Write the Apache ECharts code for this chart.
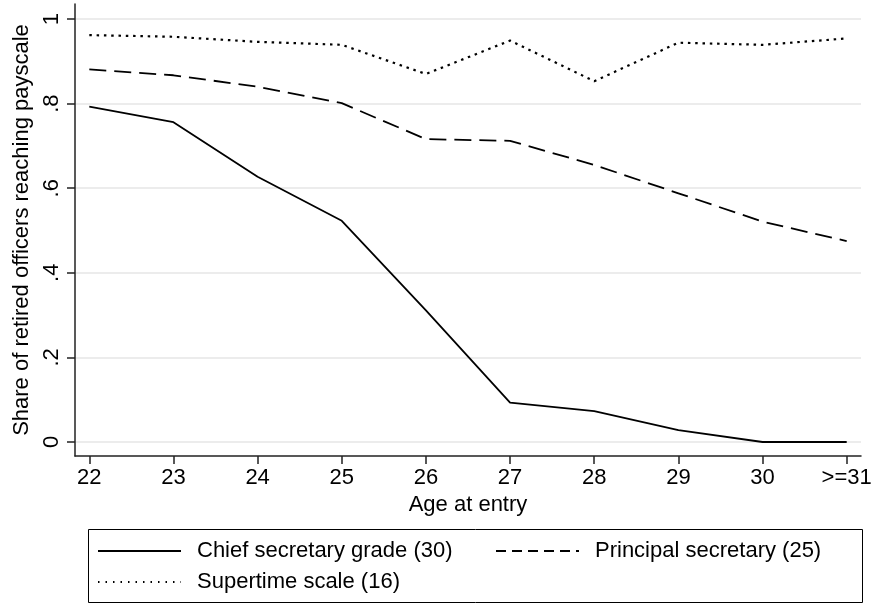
<!DOCTYPE html>
<html>
<head>
<meta charset="utf-8">
<script src="https://cdn.jsdelivr.net/npm/echarts@6/dist/echarts.min.js"></script>
<style>
html,body{margin:0;padding:0;background:#fff;}
#chart{width:876px;height:605px;}
</style>
</head>
<body>
<div id="chart"></div>
<script>
// ---- data ----
const ages = [22, 23, 24, 25, 26, 27, 28, 29, 30, 31];
const xTickLabels = ['22', '23', '24', '25', '26', '27', '28', '29', '30', '>=31'];
const yTickValues = [0, 0.2, 0.4, 0.6, 0.8, 1];
const yTickLabels = ['0', '.2', '.4', '.6', '.8', '1'];
const seriesNames = ['Chief secretary grade (30)', 'Principal secretary (25)', 'Supertime scale (16)'];
const chiefSecretary = [0.793, 0.756, 0.627, 0.523, 0.311, 0.093, 0.073, 0.028, 0.0, 0.0];
const principalSecretary = [0.881, 0.867, 0.840, 0.801, 0.716, 0.712, 0.655, 0.588, 0.521, 0.475];
const supertimeScale = [0.962, 0.958, 0.946, 0.939, 0.870, 0.949, 0.853, 0.944, 0.939, 0.954];

const FONT = 'Liberation Sans, Arial, sans-serif';
const pairs = arr => ages.map((a, i) => [a, arr[i]]);

const chart = echarts.init(document.getElementById('chart'), null, {renderer: 'canvas'});

const legendBase = {
  orient: 'horizontal',
  padding: 0,
  itemWidth: 83,
  itemHeight: 14,
  textStyle: {fontFamily: FONT, fontSize: 22, color: '#000', padding: [0, 0, 0, 11]},
  selectedMode: false,
  itemStyle: {opacity: 0}
};

chart.setOption({
  animation: false,
  backgroundColor: '#fff',
  textStyle: {fontFamily: FONT},
  grid: {left: 75, right: 15, top: 4, bottom: 149, containLabel: false},
  xAxis: {
    type: 'value',
    min: 21.83,
    max: 31.17,
    name: 'Age at entry',
    nameLocation: 'middle',
    nameGap: 37,
    nameTextStyle: {fontFamily: FONT, fontSize: 22, color: '#000'},
    axisLine: {show: true, onZero: false, lineStyle: {color: '#222', width: 1.5}},
    axisTick: {show: true, length: 8, customValues: ages, lineStyle: {color: '#222', width: 1.5}},
    axisLabel: {
      customValues: ages,
      margin: 11,
      fontFamily: FONT, fontSize: 22, color: '#000',
      formatter: v => xTickLabels[ages.indexOf(Math.round(v))]
    },
    splitLine: {show: false}
  },
  yAxis: {
    type: 'value',
    min: -0.0331,
    max: 1.0355,
    name: 'Share of retired officers reaching payscale',
    nameLocation: 'middle',
    nameGap: 40,
    nameTextStyle: {fontFamily: FONT, fontSize: 22, color: '#000'},
    axisLine: {show: true, onZero: false, lineStyle: {color: '#222', width: 1.5}},
    axisTick: {show: true, length: 8, customValues: yTickValues, lineStyle: {color: '#222', width: 1.5}},
    axisLabel: {
      customValues: yTickValues,
      rotate: 90,
      margin: 12,
      fontFamily: FONT, fontSize: 22, color: '#000',
      formatter: v => {
        const i = yTickValues.findIndex(t => Math.abs(t - v) < 1e-6);
        return i >= 0 ? yTickLabels[i] : '';
      }
    },
    splitLine: {show: true, lineStyle: {color: '#e6e6e6', width: 1.5}}
  },
  legend: [
    Object.assign({}, legendBase, {left: 97, top: 540, data: [{name: seriesNames[0], itemStyle: {opacity: 0}}]}),
    Object.assign({}, legendBase, {left: 495, top: 540, data: [{name: seriesNames[1], itemStyle: {opacity: 0}, lineStyle: {type: [10, 6]}}]}),
    Object.assign({}, legendBase, {left: 97, top: 571, data: [{name: seriesNames[2], itemStyle: {opacity: 0}, lineStyle: {type: [1.5, 6]}}]})
  ],
  graphic: [{
    type: 'rect',
    left: 86, top: 527,
    shape: {width: 774, height: 73},
    style: {fill: 'none', stroke: '#000', lineWidth: 1}
  }],
  series: [
    {
      name: seriesNames[0], type: 'line', data: pairs(chiefSecretary),
      symbol: 'none', showSymbol: false,
      lineStyle: {color: '#000', width: 1.8, type: 'solid'},
      itemStyle: {color: '#000'}
    },
    {
      name: seriesNames[1], type: 'line', data: pairs(principalSecretary),
      symbol: 'none', showSymbol: false,
      lineStyle: {color: '#000', width: 1.8, type: [17, 8]},
      itemStyle: {color: '#000'}
    },
    {
      name: seriesNames[2], type: 'line', data: pairs(supertimeScale),
      symbol: 'none', showSymbol: false,
      lineStyle: {color: '#000', width: 2.2, type: [2.5, 4.8]},
      itemStyle: {color: '#000'}
    }
  ]
});
</script>
</body>
</html>
